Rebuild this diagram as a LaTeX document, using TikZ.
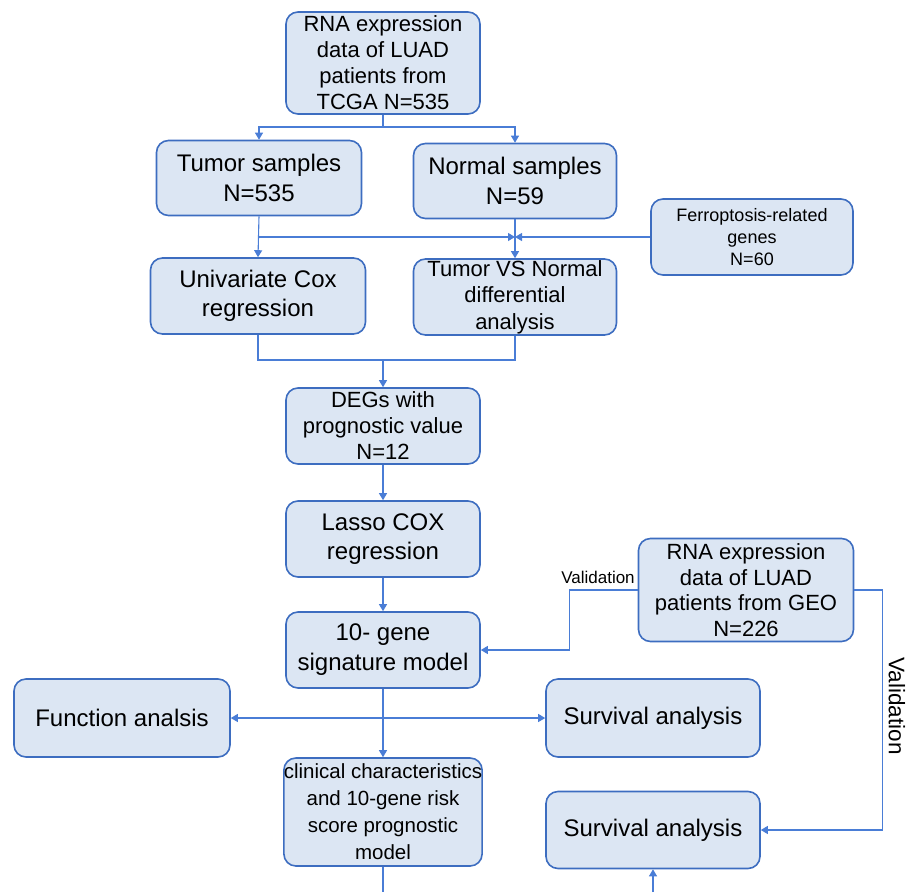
\documentclass[tikz,border=0pt]{standalone}
\usepackage{fontspec}
\setmainfont{Liberation Sans}
\usetikzlibrary{arrows.meta}
\definecolor{boxfill}{HTML}{DCE6F3}
\definecolor{boxline}{HTML}{3D6DC0}
\definecolor{wire}{HTML}{4A7DD6}

\begin{document}
\begin{tikzpicture}[
      x=1pt, y=-1pt,
      blk/.style={
        draw=boxline, fill=boxfill, line width=1.6pt,
        rounded corners=12pt, align=center, inner sep=0pt
      },
      lnk/.style={draw=wire, line width=1.1pt},
      arr/.style={lnk, -{Triangle[length=7pt,width=8pt]}}
    ]
      \useasboundingbox (0,0) rectangle (913,892);

      \node[blk, minimum width=194pt, minimum height=102pt,
        font=\fontsize{22}{26}\selectfont] (tcga) at (383,63)
        {RNA expression\\data of LUAD\\patients from\\TCGA N=535};
      \node[blk, minimum width=205pt, minimum height=75pt,
        font=\fontsize{24}{30}\selectfont] (tumor) at (259,178)
        {Tumor samples\\N=535};
      \node[blk, minimum width=203pt, minimum height=75pt,
        font=\fontsize{24}{30}\selectfont] (normal) at (515,181)
        {Normal samples\\N=59};
      \node[blk, minimum width=202pt, minimum height=76pt,
        font=\fontsize{18}{22}\selectfont] (ferro) at (752,237)
        {Ferroptosis-related\\genes\\N=60};
      \node[blk, minimum width=215pt, minimum height=76pt,
        font=\fontsize{24}{29}\selectfont] (uni) at (258,296)
        {Univariate Cox\\regression};
      \node[blk, minimum width=203pt, minimum height=76pt,
        font=\fontsize{22}{26.5}\selectfont] (tvn) at (515,297)
        {Tumor VS Normal\\differential\\analysis};
      \node[blk, minimum width=194pt, minimum height=76pt,
        font=\fontsize{22}{26}\selectfont] (deg) at (383,426)
        {DEGs with\\prognostic value\\N=12};
      \node[blk, minimum width=194pt, minimum height=76pt,
        font=\fontsize{24}{29}\selectfont] (lasso) at (383,539)
        {Lasso COX\\regression};
      \node[blk, minimum width=194pt, minimum height=76pt,
        font=\fontsize{24}{30}\selectfont] (sig) at (383,650)
        {10- gene\\signature model};
      \node[blk, minimum width=215pt, minimum height=103pt,
        font=\fontsize{22}{25.7}\selectfont] (geo) at (746,590)
        {RNA expression\\data of LUAD\\patients from GEO\\N=226};
      \node[blk, minimum width=216pt, minimum height=78pt,
        font=\fontsize{24}{30}\selectfont] (func) at (122,718)
        {Function analsis};
      \node[blk, minimum width=214pt, minimum height=78pt,
        font=\fontsize{24}{30}\selectfont] (surva) at (653,718)
        {Survival analysis};
      \node[blk, minimum width=194pt, minimum height=108pt,
        font=\fontsize{20.5}{27}\selectfont] (clin) at (383,812)
        {clinical characteristics\\and 10-gene risk\\score prognostic\\model};
      \node[blk, minimum width=214pt, minimum height=77pt,
        font=\fontsize{24}{30}\selectfont] (survb) at (653,830)
        {Survival analysis};

      \node[font=\fontsize{17}{20}\selectfont] (vala) at (598,577){Validation};
      \node[font=\fontsize{22.5}{27}\selectfont, rotate=-90] (valb)
        at (897,706){Validation};

      \coordinate (split) at (383,127);
      \coordinate (jl) at (258,237);
      \coordinate (jr) at (515,237);
      \coordinate (merge) at (383,360);
      \coordinate (fan) at (383,718);
      \coordinate (outc) at (383,892);
      \coordinate (ins) at (653,892);

      \draw[lnk] (tcga.south) -- (split);
      \draw[arr] (split) -| (tumor.north);
      \draw[arr] (split) -| (normal.north);

      \draw[arr] (tumor.south) -- (uni.north);
      \draw[arr] (normal.south) -- (tvn.north);
      \draw[arr] (jl) -- (jr);
      \draw[arr] (ferro.west) -- (jr);

      \draw[lnk] (uni.south) |- (merge) -| (tvn.south);
      \draw[arr] (merge) -- (deg.north);

      \foreach \a/\b in {deg/lasso, lasso/sig, sig/clin} {
        \draw[arr] (\a.south) -- (\b.north);
      }

      \draw[arr] (fan) -- (func.east);
      \draw[arr] (fan) -- (surva.west);

      \draw[arr] (geo.west) -- ++(-68,0) |- (sig.east);
      \draw[arr] (geo.east) -- ++(28,0) |- (survb.east);

      \draw[lnk] (clin.south) -- (outc);
      \draw[arr] (ins) -- (survb.south);
    \end{tikzpicture}
\end{document}
